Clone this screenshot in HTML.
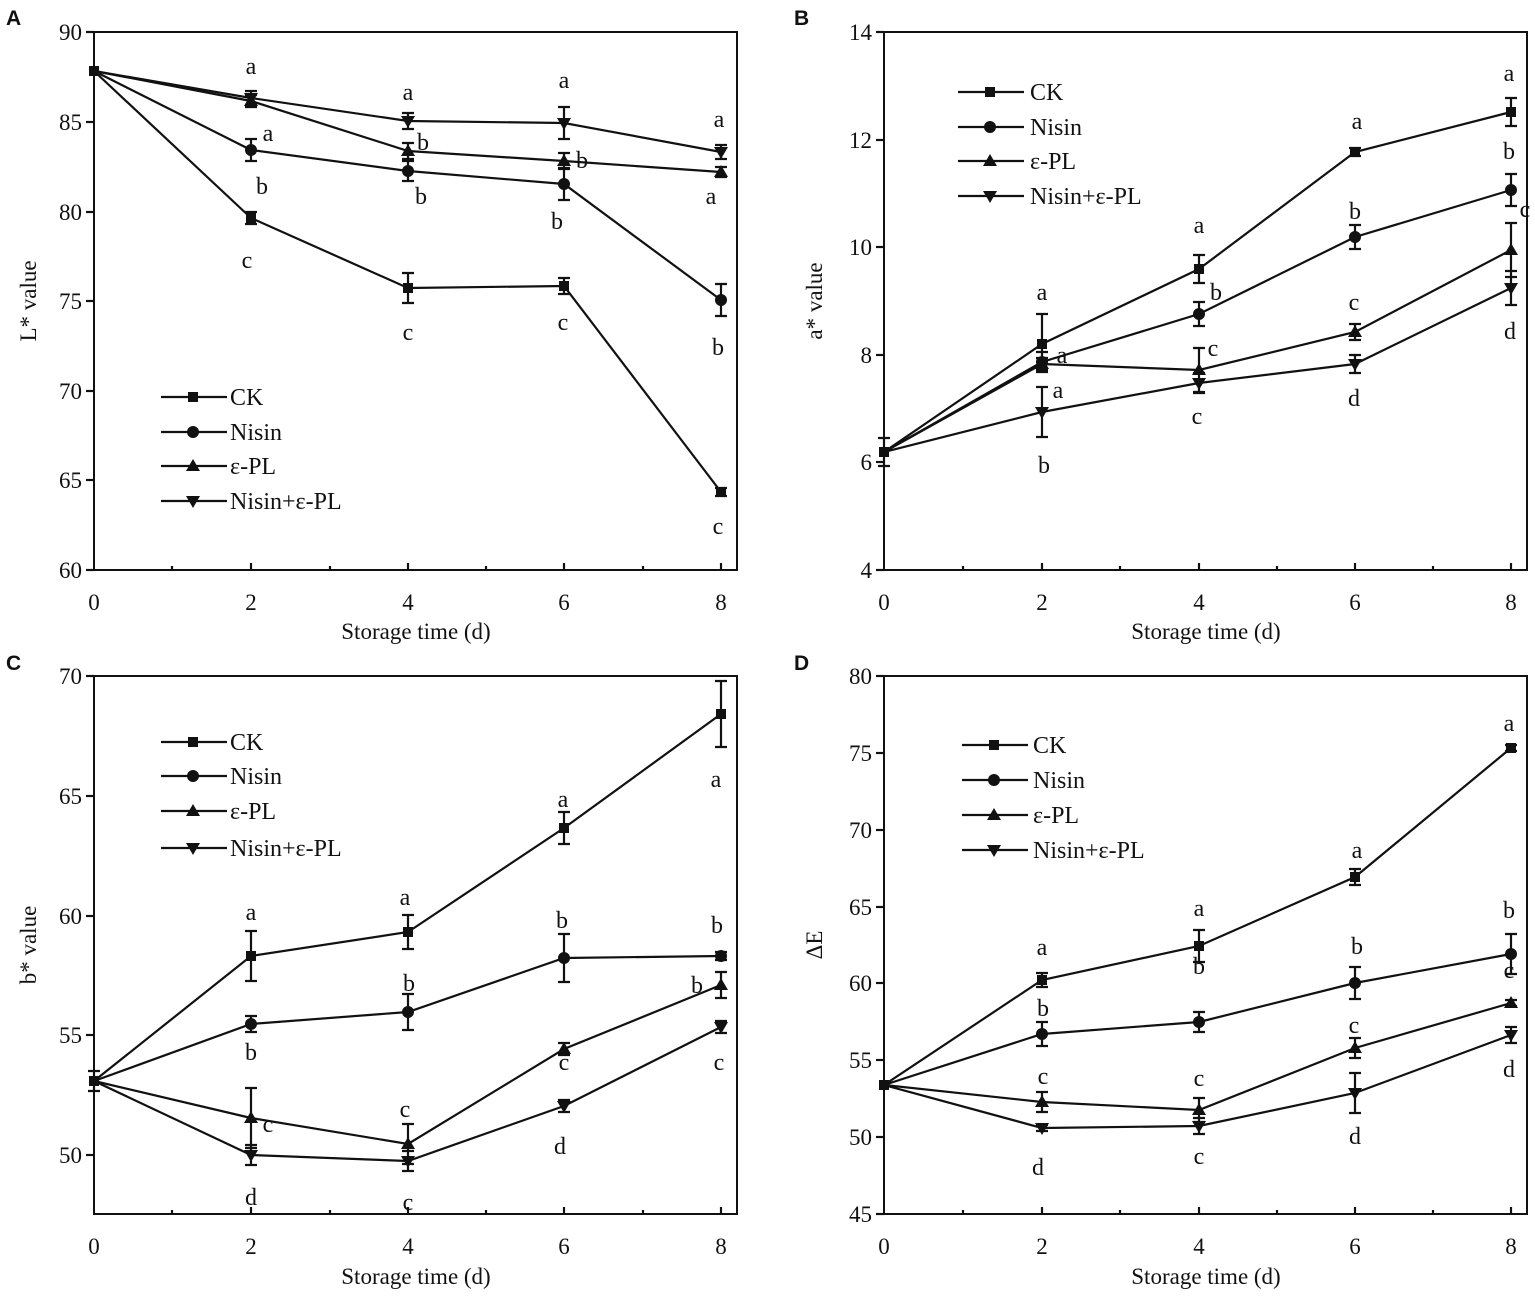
<!DOCTYPE html>
<html><head><meta charset="utf-8"><style>
body{margin:0;background:#fff}
svg{display:block}
text{font-family:"Liberation Serif",serif;fill:#111}
.t{font-size:23px}
.l{font-size:24px}
.p{font-family:"Liberation Sans",sans-serif;font-weight:bold;font-size:21px}
.ln{fill:none;stroke:#111;stroke-width:2.2}
.eb{stroke:#111;stroke-width:2.2}
.ax{fill:none;stroke:#111;stroke-width:2}
</style></head><body>
<svg width="1535" height="1296" viewBox="0 0 1535 1296" xmlns="http://www.w3.org/2000/svg">
<defs>
<g id="sq"><rect x="-5" y="-5" width="10" height="10" fill="#111"/></g>
<g id="ci"><circle r="6" fill="#111"/></g>
<g id="tu"><path d="M0,-7 L7,5 L-7,5Z" fill="#111"/></g>
<g id="td"><path d="M0,7 L7,-5 L-7,-5Z" fill="#111"/></g>
</defs>
<text class="p" x="6" y="25">A</text>
<text class="p" x="794" y="25">B</text>
<text class="p" x="6" y="670">C</text>
<text class="p" x="794" y="670">D</text>

<!-- ===== Panel A ===== -->
<rect class="ax" x="94" y="32" width="643" height="538"/>
<g class="eb">
<line x1="86" y1="32" x2="94" y2="32"/><line x1="86" y1="122" x2="94" y2="122"/><line x1="86" y1="212" x2="94" y2="212"/><line x1="86" y1="301" x2="94" y2="301"/><line x1="86" y1="391" x2="94" y2="391"/><line x1="86" y1="480" x2="94" y2="480"/><line x1="86" y1="570" x2="94" y2="570"/>
<line x1="251" y1="570" x2="251" y2="563"/><line x1="408" y1="570" x2="408" y2="563"/><line x1="564" y1="570" x2="564" y2="563"/><line x1="721" y1="570" x2="721" y2="563"/>
<line x1="172" y1="570" x2="172" y2="566"/><line x1="330" y1="570" x2="330" y2="566"/><line x1="486" y1="570" x2="486" y2="566"/><line x1="643" y1="570" x2="643" y2="566"/>
</g>
<g class="t" text-anchor="end"><text x="82" y="40">90</text><text x="82" y="130">85</text><text x="82" y="220">80</text><text x="82" y="309">75</text><text x="82" y="399">70</text><text x="82" y="488">65</text><text x="82" y="578">60</text></g>
<g class="t" text-anchor="middle"><text x="94" y="610">0</text><text x="251" y="610">2</text><text x="408" y="610">4</text><text x="564" y="610">6</text><text x="721" y="610">8</text>
<text x="416" y="639">Storage time (d)</text>
<text transform="translate(36,301) rotate(-90)">L* value</text></g>
<polyline class="ln" points="94,71 251,218 408,288 564,286 721,492"/>
<polyline class="ln" points="94,71 251,150 408,171 564,184 721,300"/>
<polyline class="ln" points="94,71 251,101 408,151 564,161 721,172"/>
<polyline class="ln" points="94,71 251,98 408,121 564,123 721,152"/>
<path class="eb" d="M251,212V224M245,212h12M245,224h12 M408,273V303M402,273h12M402,303h12 M564,278V294M558,278h12M558,294h12 M721,488V496M715,488h12M715,496h12
M251,139V161M245,139h12M245,161h12 M408,161V181M402,161h12M402,181h12 M564,168V200M558,168h12M558,200h12 M721,284V316M715,284h12M715,316h12
M251,95V107M245,95h12M245,107h12 M408,143V159M402,143h12M402,159h12 M564,153V169M558,153h12M558,169h12 M721,167V177M715,167h12M715,177h12
M251,91V105M245,91h12M245,105h12 M408,113V129M402,113h12M402,129h12 M564,107V139M558,107h12M558,139h12 M721,145V159M715,145h12M715,159h12"/>
<use href="#sq" x="94" y="71"/><use href="#sq" x="251" y="218"/><use href="#sq" x="408" y="288"/><use href="#sq" x="564" y="286"/><use href="#sq" x="721" y="492"/>
<use href="#ci" x="251" y="150"/><use href="#ci" x="408" y="171"/><use href="#ci" x="564" y="184"/><use href="#ci" x="721" y="300"/>
<use href="#tu" x="251" y="101"/><use href="#tu" x="408" y="151"/><use href="#tu" x="564" y="161"/><use href="#tu" x="721" y="172"/>
<use href="#td" x="251" y="98"/><use href="#td" x="408" y="121"/><use href="#td" x="564" y="123"/><use href="#td" x="721" y="152"/>
<g class="l" text-anchor="middle">
<text x="251" y="74">a</text><text x="268" y="141">a</text><text x="262" y="194">b</text><text x="247" y="268">c</text>
<text x="408" y="100">a</text><text x="423" y="150">b</text><text x="421" y="204">b</text><text x="408" y="340">c</text>
<text x="564" y="88">a</text><text x="582" y="168">b</text><text x="557" y="229">b</text><text x="563" y="330">c</text>
<text x="719" y="127">a</text><text x="711" y="204">a</text><text x="718" y="355">b</text><text x="718" y="534">c</text></g>
<g>
<line class="eb" x1="161" y1="397" x2="227" y2="397"/><use href="#sq" x="193" y="397"/>
<line class="eb" x1="161" y1="432" x2="227" y2="432"/><use href="#ci" x="193" y="432"/>
<line class="eb" x1="161" y1="466" x2="227" y2="466"/><use href="#tu" x="193" y="466"/>
<line class="eb" x1="161" y1="501" x2="227" y2="501"/><use href="#td" x="193" y="501"/>
<g class="l"><text x="230" y="405">CK</text><text x="230" y="440">Nisin</text><text x="230" y="474">ε-PL</text><text x="230" y="509">Nisin+ε-PL</text></g>
</g>

<!-- ===== Panel B ===== -->
<rect class="ax" x="884" y="32" width="643" height="538"/>
<g class="eb">
<line x1="876" y1="32" x2="884" y2="32"/><line x1="876" y1="140" x2="884" y2="140"/><line x1="876" y1="247" x2="884" y2="247"/><line x1="876" y1="355" x2="884" y2="355"/><line x1="876" y1="462" x2="884" y2="462"/><line x1="876" y1="570" x2="884" y2="570"/>
<line x1="1042" y1="570" x2="1042" y2="563"/><line x1="1199" y1="570" x2="1199" y2="563"/><line x1="1355" y1="570" x2="1355" y2="563"/><line x1="1511" y1="570" x2="1511" y2="563"/>
<line x1="963" y1="570" x2="963" y2="566"/><line x1="1120" y1="570" x2="1120" y2="566"/><line x1="1277" y1="570" x2="1277" y2="566"/><line x1="1433" y1="570" x2="1433" y2="566"/>
</g>
<g class="t" text-anchor="end"><text x="872" y="40">14</text><text x="872" y="148">12</text><text x="872" y="255">10</text><text x="872" y="363">8</text><text x="872" y="470">6</text><text x="872" y="578">4</text></g>
<g class="t" text-anchor="middle"><text x="884" y="610">0</text><text x="1042" y="610">2</text><text x="1199" y="610">4</text><text x="1355" y="610">6</text><text x="1511" y="610">8</text>
<text x="1206" y="639">Storage time (d)</text>
<text transform="translate(822,301) rotate(-90)">a* value</text></g>
<polyline class="ln" points="884,452 1042,344 1199,269 1355,152 1511,112"/>
<polyline class="ln" points="884,452 1042,362 1199,314 1355,237 1511,190"/>
<polyline class="ln" points="884,452 1042,364 1199,370 1355,332 1511,250"/>
<polyline class="ln" points="884,452 1042,412 1199,383 1355,364 1511,288"/>
<path class="eb" d="M884,438V466M878,438h12M878,466h12 M1042,314V370M1036,314h12M1036,370h12 M1199,255V283M1193,255h12M1193,283h12 M1355,148V156M1349,148h12M1349,156h12 M1511,98V126M1505,98h12M1505,126h12
M1042,352V372M1036,352h12M1036,372h12 M1199,302V326M1193,302h12M1193,326h12 M1355,225V249M1349,225h12M1349,249h12 M1511,174V206M1505,174h12M1505,206h12
M1042,358V370M1036,358h12M1036,370h12 M1199,348V392M1193,348h12M1193,392h12 M1355,324V340M1349,324h12M1349,340h12 M1511,223V277M1505,223h12M1505,277h12
M1042,387V437M1036,387h12M1036,437h12 M1199,373V393M1193,373h12M1193,393h12 M1355,355V373M1349,355h12M1349,373h12 M1511,271V305M1505,271h12M1505,305h12"/>
<use href="#sq" x="884" y="452"/><use href="#sq" x="1042" y="344"/><use href="#sq" x="1199" y="269"/><use href="#sq" x="1355" y="152"/><use href="#sq" x="1511" y="112"/>
<use href="#ci" x="1042" y="362"/><use href="#ci" x="1199" y="314"/><use href="#ci" x="1355" y="237"/><use href="#ci" x="1511" y="190"/>
<use href="#tu" x="1042" y="364"/><use href="#tu" x="1199" y="370"/><use href="#tu" x="1355" y="332"/><use href="#tu" x="1511" y="250"/>
<use href="#td" x="1042" y="412"/><use href="#td" x="1199" y="383"/><use href="#td" x="1355" y="364"/><use href="#td" x="1511" y="288"/>
<g class="l" text-anchor="middle">
<text x="1042" y="300">a</text><text x="1062" y="363">a</text><text x="1058" y="398">a</text><text x="1044" y="473">b</text>
<text x="1199" y="233">a</text><text x="1216" y="300">b</text><text x="1213" y="356">c</text><text x="1197" y="424">c</text>
<text x="1357" y="129">a</text><text x="1355" y="219">b</text><text x="1354" y="310">c</text><text x="1354" y="406">d</text>
<text x="1509" y="81">a</text><text x="1509" y="159">b</text><text x="1525" y="217">c</text><text x="1510" y="339">d</text></g>
<g>
<line class="eb" x1="958" y1="92" x2="1024" y2="92"/><use href="#sq" x="990" y="92"/>
<line class="eb" x1="958" y1="127" x2="1024" y2="127"/><use href="#ci" x="990" y="127"/>
<line class="eb" x1="958" y1="161" x2="1024" y2="161"/><use href="#tu" x="990" y="161"/>
<line class="eb" x1="958" y1="196" x2="1024" y2="196"/><use href="#td" x="990" y="196"/>
<g class="l"><text x="1030" y="100">CK</text><text x="1030" y="135">Nisin</text><text x="1030" y="169">ε-PL</text><text x="1030" y="204">Nisin+ε-PL</text></g>
</g>

<!-- ===== Panel C ===== -->
<rect class="ax" x="94" y="676" width="643" height="538"/>
<g class="eb">
<line x1="86" y1="676" x2="94" y2="676"/><line x1="86" y1="796" x2="94" y2="796"/><line x1="86" y1="916" x2="94" y2="916"/><line x1="86" y1="1035" x2="94" y2="1035"/><line x1="86" y1="1155" x2="94" y2="1155"/>
<line x1="251" y1="1214" x2="251" y2="1207"/><line x1="408" y1="1214" x2="408" y2="1207"/><line x1="564" y1="1214" x2="564" y2="1207"/><line x1="721" y1="1214" x2="721" y2="1207"/>
<line x1="172" y1="1214" x2="172" y2="1210"/><line x1="330" y1="1214" x2="330" y2="1210"/><line x1="486" y1="1214" x2="486" y2="1210"/><line x1="643" y1="1214" x2="643" y2="1210"/>
</g>
<g class="t" text-anchor="end"><text x="82" y="684">70</text><text x="82" y="804">65</text><text x="82" y="924">60</text><text x="82" y="1043">55</text><text x="82" y="1163">50</text></g>
<g class="t" text-anchor="middle"><text x="94" y="1254">0</text><text x="251" y="1254">2</text><text x="408" y="1254">4</text><text x="564" y="1254">6</text><text x="721" y="1254">8</text>
<text x="416" y="1284">Storage time (d)</text>
<text transform="translate(36,945) rotate(-90)">b* value</text></g>
<polyline class="ln" points="94,1081 251,956 408,932 564,828 721,714"/>
<polyline class="ln" points="94,1081 251,1024 408,1012 564,958 721,956"/>
<polyline class="ln" points="94,1081 251,1118 408,1144 564,1049 721,985"/>
<polyline class="ln" points="94,1081 251,1155 408,1161 564,1106 721,1027"/>
<path class="eb" d="M94,1071V1091M88,1071h12M88,1091h12 M251,931V981M245,931h12M245,981h12 M408,915V949M402,915h12M402,949h12 M564,812V844M558,812h12M558,844h12 M721,681V747M715,681h12M715,747h12
M251,1016V1032M245,1016h12M245,1032h12 M408,994V1030M402,994h12M402,1030h12 M564,934V982M558,934h12M558,982h12 M721,952V960M715,952h12M715,960h12
M251,1088V1148M245,1088h12M245,1148h12 M408,1124V1164M402,1124h12M402,1164h12 M564,1043V1055M558,1043h12M558,1055h12 M721,972V998M715,972h12M715,998h12
M251,1145V1165M245,1145h12M245,1165h12 M408,1151V1171M402,1151h12M402,1171h12 M564,1100V1112M558,1100h12M558,1112h12 M721,1021V1033M715,1021h12M715,1033h12"/>
<use href="#sq" x="94" y="1081"/><use href="#sq" x="251" y="956"/><use href="#sq" x="408" y="932"/><use href="#sq" x="564" y="828"/><use href="#sq" x="721" y="714"/>
<use href="#ci" x="251" y="1024"/><use href="#ci" x="408" y="1012"/><use href="#ci" x="564" y="958"/><use href="#ci" x="721" y="956"/>
<use href="#tu" x="251" y="1118"/><use href="#tu" x="408" y="1144"/><use href="#tu" x="564" y="1049"/><use href="#tu" x="721" y="985"/>
<use href="#td" x="251" y="1155"/><use href="#td" x="408" y="1161"/><use href="#td" x="564" y="1106"/><use href="#td" x="721" y="1027"/>
<g class="l" text-anchor="middle">
<text x="251" y="920">a</text><text x="251" y="1060">b</text><text x="268" y="1132">c</text><text x="251" y="1205">d</text>
<text x="405" y="905">a</text><text x="409" y="991">b</text><text x="405" y="1117">c</text><text x="408" y="1210">c</text>
<text x="563" y="807">a</text><text x="562" y="928">b</text><text x="564" y="1070">c</text><text x="560" y="1154">d</text>
<text x="716" y="787">a</text><text x="717" y="933">b</text><text x="697" y="993">b</text><text x="719" y="1070">c</text></g>
<g>
<line class="eb" x1="161" y1="742" x2="227" y2="742"/><use href="#sq" x="193" y="742"/>
<line class="eb" x1="161" y1="776" x2="227" y2="776"/><use href="#ci" x="193" y="776"/>
<line class="eb" x1="161" y1="811" x2="227" y2="811"/><use href="#tu" x="193" y="811"/>
<line class="eb" x1="161" y1="848" x2="227" y2="848"/><use href="#td" x="193" y="848"/>
<g class="l"><text x="230" y="750">CK</text><text x="230" y="784">Nisin</text><text x="230" y="819">ε-PL</text><text x="230" y="856">Nisin+ε-PL</text></g>
</g>

<!-- ===== Panel D ===== -->
<rect class="ax" x="884" y="676" width="643" height="538"/>
<g class="eb">
<line x1="876" y1="676" x2="884" y2="676"/><line x1="876" y1="753" x2="884" y2="753"/><line x1="876" y1="830" x2="884" y2="830"/><line x1="876" y1="907" x2="884" y2="907"/><line x1="876" y1="983" x2="884" y2="983"/><line x1="876" y1="1060" x2="884" y2="1060"/><line x1="876" y1="1137" x2="884" y2="1137"/><line x1="876" y1="1214" x2="884" y2="1214"/>
<line x1="1042" y1="1214" x2="1042" y2="1207"/><line x1="1199" y1="1214" x2="1199" y2="1207"/><line x1="1355" y1="1214" x2="1355" y2="1207"/><line x1="1511" y1="1214" x2="1511" y2="1207"/>
<line x1="963" y1="1214" x2="963" y2="1210"/><line x1="1120" y1="1214" x2="1120" y2="1210"/><line x1="1277" y1="1214" x2="1277" y2="1210"/><line x1="1433" y1="1214" x2="1433" y2="1210"/>
</g>
<g class="t" text-anchor="end"><text x="872" y="684">80</text><text x="872" y="761">75</text><text x="872" y="838">70</text><text x="872" y="915">65</text><text x="872" y="991">60</text><text x="872" y="1068">55</text><text x="872" y="1145">50</text><text x="872" y="1222">45</text></g>
<g class="t" text-anchor="middle"><text x="884" y="1254">0</text><text x="1042" y="1254">2</text><text x="1199" y="1254">4</text><text x="1355" y="1254">6</text><text x="1511" y="1254">8</text>
<text x="1206" y="1284">Storage time (d)</text>
<text transform="translate(822,945) rotate(-90)">ΔE</text></g>
<polyline class="ln" points="884,1085 1042,980 1199,946 1355,877 1511,748"/>
<polyline class="ln" points="884,1085 1042,1034 1199,1022 1355,983 1511,954"/>
<polyline class="ln" points="884,1085 1042,1102 1199,1110 1355,1048 1511,1003"/>
<polyline class="ln" points="884,1085 1042,1128 1199,1126 1355,1093 1511,1035"/>
<path class="eb" d="M1042,973V987M1036,973h12M1036,987h12 M1199,930V962M1193,930h12M1193,962h12 M1355,869V885M1349,869h12M1349,885h12 M1511,745V751M1505,745h12M1505,751h12
M1042,1022V1046M1036,1022h12M1036,1046h12 M1199,1012V1032M1193,1012h12M1193,1032h12 M1355,967V999M1349,967h12M1349,999h12 M1511,934V974M1505,934h12M1505,974h12
M1042,1092V1112M1036,1092h12M1036,1112h12 M1199,1098V1122M1193,1098h12M1193,1122h12 M1355,1038V1058M1349,1038h12M1349,1058h12 M1511,1000V1006M1505,1000h12M1505,1006h12
M1042,1125V1131M1036,1125h12M1036,1131h12 M1199,1118V1134M1193,1118h12M1193,1134h12 M1355,1073V1113M1349,1073h12M1349,1113h12 M1511,1027V1043M1505,1027h12M1505,1043h12"/>
<use href="#sq" x="884" y="1085"/><use href="#sq" x="1042" y="980"/><use href="#sq" x="1199" y="946"/><use href="#sq" x="1355" y="877"/><use href="#sq" x="1511" y="748"/>
<use href="#ci" x="1042" y="1034"/><use href="#ci" x="1199" y="1022"/><use href="#ci" x="1355" y="983"/><use href="#ci" x="1511" y="954"/>
<use href="#tu" x="1042" y="1102"/><use href="#tu" x="1199" y="1110"/><use href="#tu" x="1355" y="1048"/><use href="#tu" x="1511" y="1003"/>
<use href="#td" x="1042" y="1128"/><use href="#td" x="1199" y="1126"/><use href="#td" x="1355" y="1093"/><use href="#td" x="1511" y="1035"/>
<g class="l" text-anchor="middle">
<text x="1042" y="955">a</text><text x="1043" y="1016">b</text><text x="1043" y="1084">c</text><text x="1038" y="1175">d</text>
<text x="1199" y="916">a</text><text x="1199" y="974">b</text><text x="1199" y="1086">c</text><text x="1199" y="1164">c</text>
<text x="1357" y="858">a</text><text x="1357" y="954">b</text><text x="1354" y="1033">c</text><text x="1355" y="1144">d</text>
<text x="1509" y="731">a</text><text x="1509" y="918">b</text><text x="1509" y="978">c</text><text x="1509" y="1077">d</text></g>
<g>
<line class="eb" x1="962" y1="745" x2="1028" y2="745"/><use href="#sq" x="994" y="745"/>
<line class="eb" x1="962" y1="780" x2="1028" y2="780"/><use href="#ci" x="994" y="780"/>
<line class="eb" x1="962" y1="815" x2="1028" y2="815"/><use href="#tu" x="994" y="815"/>
<line class="eb" x1="962" y1="850" x2="1028" y2="850"/><use href="#td" x="994" y="850"/>
<g class="l"><text x="1033" y="753">CK</text><text x="1033" y="788">Nisin</text><text x="1033" y="823">ε-PL</text><text x="1033" y="858">Nisin+ε-PL</text></g>
</g>
</svg>
</body></html>
